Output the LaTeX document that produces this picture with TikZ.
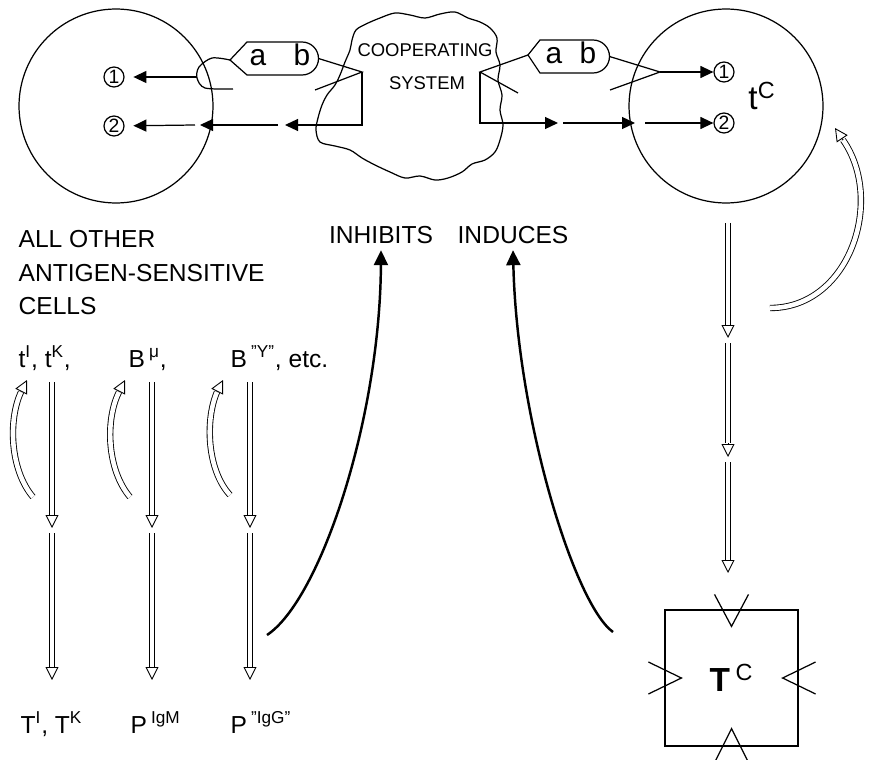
\documentclass[tikz,border=0pt]{standalone}
\usepackage{fontspec}
\setmainfont{Liberation Sans}
\usetikzlibrary{arrows.meta}

\begin{document}
\begin{tikzpicture}[
    x=0.02cm, y=-0.02cm, line width=0.7pt,
    every node/.style={font=\fontsize{14}{16}\selectfont},
    cell/.style={draw, circle, minimum size=3.88cm, inner sep=0pt},
    site/.style={draw, circle, minimum size=0.4cm, inner sep=0pt, font=\fontsize{11}{12}\selectfont},
    lbl/.style={anchor=base west, inner sep=0pt},
    bigtext/.style={font=\fontsize{19}{22}\selectfont},
    cloudtext/.style={font=\fontsize{10.5}{12}\selectfont},
    tagtext/.style={anchor=base, inner sep=0pt, font=\fontsize{17}{20}\selectfont},
    sig/.style={-{Triangle[length=0.26cm, width=0.24cm]}},
    shaft/.style={double, double distance=2.6pt, line width=0.5pt},
    hollow/.style={-{Triangle[open, length=0.26cm, width=0.26cm]}, line width=0.5pt},
    effect/.style={line width=1.4pt, -{Triangle[length=0.3cm, width=0.28cm]}}
]
\useasboundingbox (0,0) rectangle (875,760);

% the two cells
\node[cell] (lcell) at (116,106) {};
\node[cell] (rcell) at (726,106) {};
\node[site] (l1) at (114,77) {1};
\node[site] (l2) at (114,126) {2};
\node[site] (r1) at (724,72) {1};
\node[site] (r2) at (724,123) {2};
\node[bigtext, anchor=base] (tc) at (762,110) {t\textsuperscript{C}};

% cooperating system
\draw plot[smooth cycle, tension=0.55] coordinates {
    (352,40) (356,30) (366,24) (380,18) (395,13) (410,15) (425,18) (440,14)
    (455,12) (468,18) (480,22) (490,28) (497,38) (496,52) (500,65) (498,80)
    (502,95) (500,110) (503,125) (500,140) (495,152) (485,160) (472,164)
    (462,172) (448,178) (435,180) (420,176) (405,178) (390,172) (375,165)
    (362,158) (350,150) (335,146) (320,142) (316,130) (318,118) (322,105)
    (327,95) (335,85) (340,75) (345,62) (350,50)};
\node[cloudtext] (coop) at (425,50) {COOPERATING};
\node[cloudtext] (sys) at (427,83) {SYSTEM};

% antigen tags
\draw (230,60) coordinate (ltip) -- (247,42) -- (302,42)
    arc[start angle=-90, end angle=90, radius=16.5] -- (247,75) -- cycle;
\coordinate (lb) at (318.5,58.5);
\node[tagtext] (la) at (258,66) {a};
\node[tagtext] (lbt) at (302,66) {b};
\draw (528,55) coordinate (rtip) -- (540,40) -- (593,40)
    arc[start angle=-90, end angle=90, radius=16.5] -- (540,73) -- cycle;
\coordinate (rb) at (609.5,56.5);
\node[tagtext] (ra) at (554,64) {a};
\node[tagtext] (rbt) at (588,64) {b};

% left cell receptors
\coordinate (lcup) at (197,77);
\draw plot[smooth] coordinates {(230,60) (212,58) (199,67) (197,78) (205,88) (233,89)};
\draw[sig, shorten >=5pt] (lcup) -- (l1);
\coordinate (lapex) at (362,72);
\coordinate (lfoot) at (315,90);
\coordinate (lturn) at (362,125);
\coordinate (lg1) at (285,125);
\coordinate (lg2) at (278,125);
\coordinate (lg3) at (200,125);
\coordinate (lg4) at (195,125);
\draw (lb) -- (lapex) -- (lfoot);
\draw[sig] (lapex) -- (lturn) -- (lg1);
\draw[sig] (lg2) -- (lg3);
\draw[sig, shorten >=5pt] (lg4) -- (l2);

% right cell receptors
\coordinate (capex) at (480,72);
\coordinate (cfoot) at (518,93);
\coordinate (cturn) at (480,123);
\coordinate (rg1) at (558,123);
\coordinate (rg2) at (563,123);
\coordinate (rg3) at (635,123);
\coordinate (rg4) at (645,123);
\draw (rtip) -- (capex) -- (cfoot);
\draw[sig] (capex) -- (cturn) -- (rg1);
\draw[sig] (rg2) -- (rg3);
\draw[sig] (rg4) -- (r2);
\coordinate (rapex) at (660,72);
\coordinate (rfoot) at (610,90);
\draw (rb) -- (rapex) -- (rfoot);
\draw[sig] (rapex) -- (r1);

% labels
\node (inh) at (381,235) {INHIBITS};
\node (ind) at (513,235) {INDUCES};
\node[lbl] (allother) at (18,247) {ALL OTHER};
\node[lbl] (antigen) at (18,281) {ANTIGEN-SENSITIVE};
\node[lbl] (cells) at (18,314) {CELLS};
\node[lbl] (tik) at (18,367) {t\textsuperscript{I}, t\textsuperscript{K},};
\node[lbl] (bmu) at (128,367) {B\,\textsuperscript{μ},};
\node[lbl] (bgam) at (230,367) {B\,\textsuperscript{"Υ"}, etc.};
\node[lbl] (TIK) at (20,733) {T\textsuperscript{I}, T\textsuperscript{K}};
\node[lbl] (pigm) at (130,733) {P\,\textsuperscript{IgM}};
\node[lbl] (pigg) at (230,733) {P\,\textsuperscript{"IgG"}};

% differentiation of the other cells
\coordinate (a1) at (52,382);  \coordinate (a2) at (52,515);  \coordinate (a3) at (52,528);
\coordinate (a4) at (52,533);  \coordinate (a5) at (52,667);  \coordinate (a6) at (52,680);
\coordinate (b1) at (152,382); \coordinate (b2) at (152,515); \coordinate (b3) at (152,528);
\coordinate (b4) at (152,533); \coordinate (b5) at (152,667); \coordinate (b6) at (152,680);
\coordinate (c1) at (250,382); \coordinate (c2) at (250,515); \coordinate (c3) at (250,528);
\coordinate (c4) at (250,533); \coordinate (c5) at (250,667); \coordinate (c6) at (250,680);
\draw[shaft] (a1) -- (a2); \draw[hollow] (a2) -- (a3);
\draw[shaft] (a4) -- (a5); \draw[hollow] (a5) -- (a6);
\draw[shaft] (b1) -- (b2); \draw[hollow] (b2) -- (b3);
\draw[shaft] (b4) -- (b5); \draw[hollow] (b5) -- (b6);
\draw[shaft] (c1) -- (c2); \draw[hollow] (c2) -- (c3);
\draw[shaft] (c4) -- (c5); \draw[hollow] (c5) -- (c6);

% self renewal
\coordinate (f1a) at (33,497);  \coordinate (f1b) at (21,392);  \coordinate (f1c) at (27,380);
\coordinate (f2a) at (130,497); \coordinate (f2b) at (119,392); \coordinate (f2c) at (125,380);
\coordinate (f3a) at (230,495); \coordinate (f3b) at (217,392); \coordinate (f3c) at (223,380);
\draw[shaft] (f1a) .. controls (10,470) and (8,420) .. (f1b);
\draw[hollow] (f1b) -- (f1c);
\draw[shaft] (f2a) .. controls (107,470) and (105,420) .. (f2b);
\draw[hollow] (f2b) -- (f2c);
\draw[shaft] (f3a) .. controls (207,470) and (205,420) .. (f3b);
\draw[hollow] (f3b) -- (f3c);

% cooperating cell line
\coordinate (d1) at (728,223); \coordinate (d2) at (728,325); \coordinate (d3) at (728,338);
\coordinate (d4) at (728,343); \coordinate (d5) at (728,443); \coordinate (d6) at (728,457);
\coordinate (d7) at (728,462); \coordinate (d8) at (728,560); \coordinate (d9) at (728,573);
\draw[shaft] (d1) -- (d2); \draw[hollow] (d2) -- (d3);
\draw[shaft] (d4) -- (d5); \draw[hollow] (d5) -- (d6);
\draw[shaft] (d7) -- (d8); \draw[hollow] (d8) -- (d9);
\coordinate (gA) at (770,308); \coordinate (gB) at (843,140); \coordinate (gC) at (835,128);
\draw[shaft] (gA) .. controls (850,308) and (885,200) .. (gB);
\draw[hollow] (gB) -- (gC);

% effector T cell
\node[draw, minimum width=2.66cm, minimum height=2.72cm, inner sep=0pt, bigtext] (TC)
    at (731.5,678) {\textbf{T}\,\textsuperscript{C}};
\draw ([shift={(-17,-15)}]TC.north) -- ([shift={(0,17)}]TC.north) -- ([shift={(17,-15)}]TC.north);
\draw ([shift={(-16,14)}]TC.south) -- ([shift={(0,-18)}]TC.south) -- ([shift={(16,14)}]TC.south);
\draw ([shift={(-16,-16)}]TC.west) -- ([shift={(17,0)}]TC.west) -- ([shift={(-16,16)}]TC.west);
\draw ([shift={(17,-16)}]TC.east) -- ([shift={(-16,0)}]TC.east) -- ([shift={(17,16)}]TC.east);

% effects
\coordinate (inhfrom) at (267,635);
\coordinate (indfrom) at (613,632);
\draw[effect] (inhfrom) .. controls (320,600) and (380,420) .. (inh.south);
\draw[effect] (indfrom) .. controls (575,605) and (517,420) .. (ind.south);
\end{tikzpicture}
\end{document}
